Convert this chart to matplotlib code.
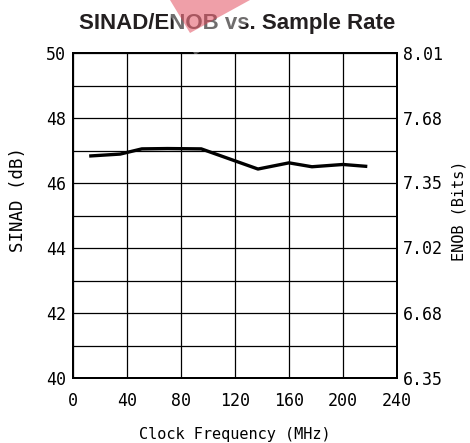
import numpy as np
import matplotlib.pyplot as plt
from matplotlib.patches import Polygon

# data
clock_mhz = [12, 35, 51, 70, 95, 137, 160, 177, 200, 218]
sinad_db = [46.83, 46.89, 47.05, 47.06, 47.05, 46.43, 46.62, 46.50, 46.57, 46.51]

sinad_ticks = [40, 42, 44, 46, 48, 50]
enob_ticks = [6.35, 6.68, 7.02, 7.35, 7.68, 8.01]
freq_ticks = [0, 40, 80, 120, 160, 200, 240]

plt.rcParams["font.family"] = "DejaVu Sans Mono"

W, H = 470, 443
fig = plt.figure(figsize=(W / 100, H / 100), dpi=100)
ax = fig.add_axes([73/W, 65/H, 324/W, 325/H])

ax.plot(clock_mhz, sinad_db, color="black", lw=2.4, solid_capstyle="butt", zorder=3)

ax.set_xlim(0, 240)
ax.set_ylim(40, 50)
ax.set_xticks(freq_ticks)
ax.set_yticks(sinad_ticks)
ax.set_yticks(np.arange(40, 51, 1), minor=True)
ax.grid(True, which="both", color="black", lw=0.9)
ax.tick_params(which="both", length=0, labelsize=12)
ax.tick_params(axis="x", pad=10)
ax.tick_params(axis="y", pad=5)
for s in ax.spines.values():
    s.set_linewidth(1.4)

ax2 = ax.twinx()
ax2.set_ylim(enob_ticks[0], enob_ticks[-1])
ax2.set_yticks(enob_ticks)
ax2.set_yticklabels([f"{v:.2f}" for v in enob_ticks])
ax2.tick_params(length=0, labelsize=12, pad=4)
for s in ax2.spines.values():
    s.set_linewidth(1.4)

fig.text(18/W, 1 - 200/H, "SINAD (dB)", rotation=90, ha="center", va="center", fontsize=12.5)
fig.text(459/W, 1 - 211/H, "ENOB (Bits)", rotation=90, ha="center", va="center", fontsize=11)
fig.text(235/W, 1 - 435/H, "Clock Frequency (MHz)", ha="center", va="center", fontsize=11)

fig.text(237/W, 1 - 23/H, "SINAD/ENOB vs. Sample Rate", ha="center", va="center",
         fontsize=16, fontweight="bold", family="Liberation Sans", color="#231f20")

# faint watermark over the title
pts = lambda p: [(x / W, 1 - y / H) for x, y in p]
fig.patches.append(Polygon(pts([(160, 0), (285, 0), (195, 55)]), closed=True,
                           transform=fig.transFigure, facecolor="white", alpha=0.35,
                           edgecolor="none", zorder=10))
fig.patches.append(Polygon(pts([(170, 0), (250, 0), (190, 33)]), closed=True,
                           transform=fig.transFigure, facecolor=(0.88, 0.25, 0.32),
                           alpha=0.5, edgecolor="none", zorder=11))

fig.savefig("out.png", dpi=100)
